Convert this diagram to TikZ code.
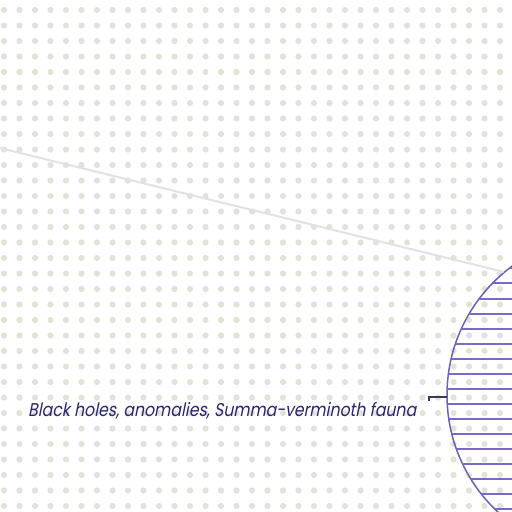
\documentclass[tikz,border=0pt]{standalone}
\usepackage{fontspec}
\newfontfamily\lab{Poppins}[FakeSlant=0.2, FakeStretch=0.85]
\definecolor{dotc}{HTML}{E0E4D8}
\definecolor{linec}{HTML}{E2E2E2}
\definecolor{ringc}{HTML}{6E5FBD}
\definecolor{hatchc}{HTML}{7B68C8}
\definecolor{txtc}{HTML}{2A2472}
\definecolor{brk}{HTML}{3A3A5C}
\tikzset{
  dotmark/.style={fill=dotc, draw=none},
  ringstyle/.style={circle, draw=ringc, line width=1.5pt, minimum size=320pt, inner sep=0pt},
  hatchline/.style={draw=hatchc, line width=2pt},
  linkline/.style={draw=linec, line width=2pt},
  labelstyle/.style={anchor=base west, inner sep=0pt, text=txtc, font=\lab\fontsize{18.5}{20}\selectfont},
  bracket/.style={draw=brk, line width=1.6pt}
}
\begin{document}
\begin{tikzpicture}[x=1pt,y=-1pt]
\useasboundingbox (0,0) rectangle (512,512);
\fill[white] (0,0) rectangle (512,512);
\foreach \i in {0,...,32}{
  \foreach \j in {0,...,32}{
    \fill[dotmark] ({4+15.5*\i},{10+15.5*\j}) circle (3.1);
  }
}
\node[ringstyle] (planet) at (607,395) {};
\begin{scope}
  \clip (607,395) circle (160);
  \foreach \yy in {268,283,299,314,329,344,359,374,389,404,419,434,449,464,479,494,509}{
    \draw[hatchline] (440,\yy) -- (520,\yy);
  }
\end{scope}
\coordinate (src) at (0,148);
\draw[linkline] (src) -- (planet.130.3);
\node[labelstyle] (lbl) at (28,416) {Black holes, anomalies, Summa-verminoth fauna};
\coordinate (tick) at (429,401);
\coordinate (tickend) at (447,397);
\draw[bracket] (tick) -- (429,397) -- (tickend);
\end{tikzpicture}
\end{document}
